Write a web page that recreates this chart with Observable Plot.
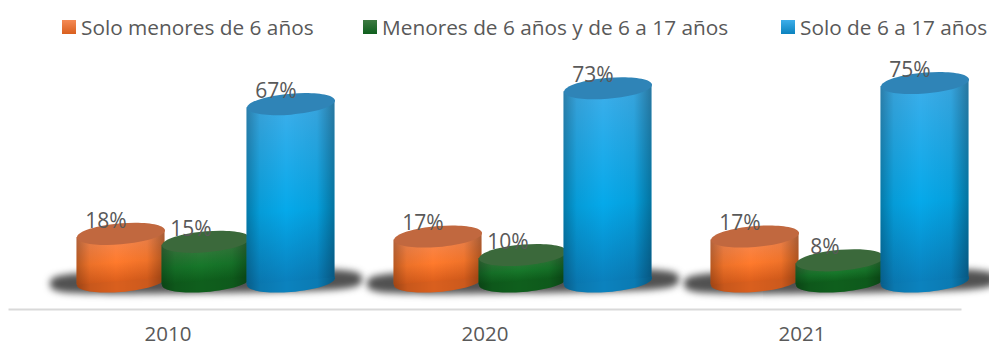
<!DOCTYPE html>
<html lang="es"><head><meta charset="utf-8">
<script src="https://cdn.jsdelivr.net/npm/d3@7"></script>
<script src="https://cdn.jsdelivr.net/npm/@observablehq/plot@0.6"></script>
<style>
html,body{margin:0;padding:0;background:#fff;overflow:hidden}
body{width:989px;height:347px;font-family:"Open Sans",sans-serif}
#legend{position:relative;height:44px;color:#595959;font-size:20.8px;line-height:44px;white-space:nowrap}
#legend span.t{position:absolute;top:5px;line-height:44px}
#legend span.s{position:absolute;top:20px;width:14px;height:14px}
svg{display:block}
</style></head><body>
<div id="legend"></div>
<div id="chart"></div>
<script>
const years = ["2010", "2020", "2021"];
const series = ["Solo menores de 6 años", "Menores de 6 años y de 6 a 17 años", "Solo de 6 a 17 años"];
const soloMenores = [18, 17, 17];
const ambos = [15, 10, 8];
const soloMayores = [67, 73, 75];
const valuesBySeries = [soloMenores, ambos, soloMayores];

const bodyStops = [["#f58a55", "#ff7a2c", "#dd5f1c"], ["#3e7a42", "#17772a", "#0e5f1c"], ["#3daeea", "#05a9ea", "#0a80bd"]];
const topColors = ["#c1683f", "#3b693b", "#2f84b7"];
const bottomColors = ["#d95f1e", "#0f5f1d", "#0b82be"];
const legendSwatchLeft = [62, 363, 781];
const legendTextLeft = [81, 382, 800];

const table = series.flatMap((s, i) => years.map((y, j) => ({series: s, idx: i, year: y, value: valuesBySeries[i][j]})));

const tilt = Math.tan(-4.6 * Math.PI / 180);
function ellipse(a, b, shear = tilt, k = 0.5522847) {
  const P = (x, y) => [x, y + shear * x];
  return {draw(ctx) {
    const seg = (c1, c2, e) => ctx.bezierCurveTo(...P(...c1), ...P(...c2), ...P(...e));
    ctx.moveTo(...P(a, 0));
    seg([a, k * b], [k * a, b], [0, b]);
    seg([-k * a, b], [-a, k * b], [-a, 0]);
    seg([-a, -k * b], [-k * a, -b], [0, -b]);
    seg([k * a, -b], [a, -k * b], [a, 0]);
    ctx.closePath();
  }};
}
const skew = (index, scales, values, dims, ctx, next) => {
  const g = next(index, scales, values, dims, ctx);
  d3.select(g).selectAll("rect").attr("transform", function() {
    const cx = +this.getAttribute("x") + +this.getAttribute("width") / 2;
    return `translate(${cx},0) matrix(1,${tilt},0,1,0,0) translate(${-cx},0)`;
  });
  return g;
};

const cap = ellipse(44, 10.5);
const cylinderMarks = series.flatMap((s, i) => {
  const rows = table.filter(d => d.idx === i);
  const common = {x: "series", fx: "year"};
  return [
    Plot.dot(rows, {...common, y: () => 0, symbol: cap, fill: bottomColors[i]}),
    Plot.dot(rows, {...common, y: () => 0, symbol: cap, fill: "url(#shade)"}),
    Plot.barY(rows, {...common, y: "value", fill: `url(#body${i})`, insetLeft: -1.5, insetRight: -1.5, render: skew}),
    Plot.barY(rows, {...common, y: "value", fill: "url(#shade)", insetLeft: -1.5, insetRight: -1.5, render: skew}),
    Plot.dot(rows, {...common, y: "value", symbol: cap, fill: topColors[i]})
  ];
});

const plot = Plot.plot({
  width: 989, height: 303,
  marginTop: 0, marginBottom: 38, marginLeft: 9, marginRight: 28,
  style: {background: "transparent", overflow: "visible", fontFamily: "'Open Sans',sans-serif"},
  x: {type: "band", domain: series, range: [78, 333], padding: 0, axis: null},
  y: {domain: [0, 85], range: [237, 12], axis: null},
  fx: {domain: years, range: [8.5, 961], padding: 0, label: null},
  marks: [
    Plot.dot(years, {fx: d => d, x: () => series[1], y: () => 0, symbol: ellipse(156, 11.5, -0.015, 0.92), fill: "#333", fillOpacity: 0.85, imageFilter: "blur(3.5px)"}),
    ...cylinderMarks,
    Plot.text(table, {x: "series", fx: "year", y: "value", text: d => d.value + "%", dx: -15, dy: -13, fontSize: 21, fill: "#595959"}),
    Plot.frame({anchor: "bottom", facet: "super", stroke: "#d9d9d9", strokeWidth: 2}),
    Plot.axisFx({anchor: "bottom", tickSize: 0, tickPadding: 17, fontSize: 20.5, color: "#595959", label: null})
  ]
});

const defs = d3.select(plot).insert("defs", ":first-child");
bodyStops.forEach((stops, i) => {
  const g = defs.append("linearGradient").attr("id", `body${i}`).attr("x1", 0).attr("x2", 0).attr("y1", 0).attr("y2", 1);
  [0, 0.6, 1].forEach((o, j) => g.append("stop").attr("offset", o).attr("stop-color", stops[j]));
});
const shade = defs.append("linearGradient").attr("id", "shade");
[[0, 0.28], [0.15, 0.08], [0.45, 0], [0.8, 0.06], [1, 0.32]].forEach(([o, a]) =>
  shade.append("stop").attr("offset", o).attr("stop-color", "#000").attr("stop-opacity", a));

document.getElementById("chart").append(plot);

const legend = d3.select("#legend");
series.forEach((s, i) => {
  legend.append("span").attr("class", "s")
    .style("left", legendSwatchLeft[i] + "px")
    .style("background", `linear-gradient(${bodyStops[i][0]},${bottomColors[i]})`);
  legend.append("span").attr("class", "t").style("left", legendTextLeft[i] + "px").text(s);
});
</script></body></html>
